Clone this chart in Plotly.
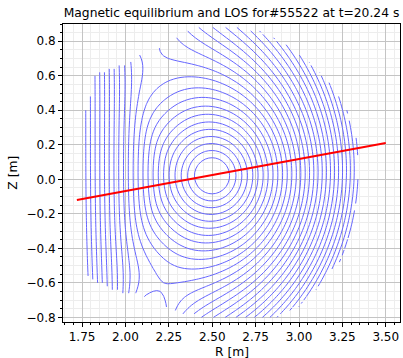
import numpy as np
import plotly.graph_objects as go

# ---------------- values ----------------
TITLE = "Magnetic equilibrium and LOS for#55522 at t=20.24 s"
X_LABEL = "R [m]"
Y_LABEL = "Z [m]"

AXIS_R, AXIS_Z = 2.50, 0.02            # magnetic axis
XPT_LOWER = [2.20, -0.62]              # lower null
XPT_UPPER = [2.22, 0.74]               # upper null
PRIV_LOWER = [2.12, -0.83]             # centre of the lower private-flux arcs
PRIV_UPPER = [1.98, 1.02]              # centre of the upper private-flux region
FIRST_SURF_R = 2.60                    # innermost contour, outboard midplane
LAST_SURF_R = 3.34                     # outermost contour, outboard midplane
N_INTERVALS = 28                       # contour intervals between the two
R_SEP_IN = 2.09                        # inboard edge of the closed surfaces
INBOARD_SPACING = 0.027                # spacing of the open inboard lines [m]

# first-wall outline (contours are only drawn inside it)
WALL_R = [1.755, 1.755, 1.81, 1.87, 1.98, 2.27, 2.36, 2.55, 2.75, 2.93, 3.06,
          3.19, 3.28, 3.35, 3.35, 3.325, 3.325, 3.355, 3.33, 3.26, 3.13, 2.99,
          2.89, 2.40, 2.26, 2.11, 1.96, 1.82]
WALL_Z = [-0.56, 0.39, 0.61, 0.645, 0.665, 0.83, 0.885, 0.895, 0.875, 0.79, 0.69,
          0.57, 0.41, 0.22, 0.135, 0.13, 0.02, 0.0, -0.26, -0.46, -0.62, -0.75,
          -0.805, -0.805, -0.765, -0.695, -0.655, -0.605]

# line of sight
LOS_R = [1.72, 3.50]
LOS_Z = [-0.12, 0.21]

X_RANGE = [1.640, 3.582]
Y_RANGE = [-0.827, 0.900]

# equilibrium shape parameters
CORE_SOFT = 0.08      # flattening of the flux near the axis
KAPPA_GROWTH = 0.30   # elongation growth with minor radius
TILT = 0.20           # in/out balance of the flux surfaces
INBOARD_DROP = 0.25
DROP_WIDTH = 0.10
SHARP = 10


def f_core(R, Z):
    x = R - AXIS_R
    z = Z - AXIS_Z
    r = np.hypot(x, z)
    kap = 1 + KAPPA_GROWTH * r
    d0 = np.hypot(x, z / kap)
    out = (np.sqrt(d0 ** 2 + CORE_SOFT ** 2) - CORE_SOFT) * np.exp(-TILT * x)
    for (xr, xz), (cr, cz) in ((XPT_LOWER, PRIV_LOWER), (XPT_UPPER, PRIV_UPPER)):
        d = np.hypot(xr - AXIS_R, xz - AXIS_Z)
        D = np.hypot(cr - AXIS_R, cz - AXIS_Z)
        sq = np.sqrt(d * d + CORE_SOFT ** 2)
        peff = d * (d / sq) / (sq - CORE_SOFT)
        q = peff * (D - d) / d
        out = out * np.hypot(R - cr, Z - cz) ** q
    return out


p_first = f_core(FIRST_SURF_R, AXIS_Z)
p_last = f_core(LAST_SURF_R, AXIS_Z)
step = (p_last - p_first) / N_INTERVALS
G_IN = step / INBOARD_SPACING
P_SEP_IN = f_core(R_SEP_IN, AXIS_Z)


def psi_model(R, Z):
    f1 = f_core(R, Z)
    m = 1 - INBOARD_DROP / (1 + np.exp((R - (R_SEP_IN - 0.05)) / DROP_WIDTH))
    f_in = np.maximum(P_SEP_IN + G_IN * (R_SEP_IN - R), 0)
    return ((f1 * m) ** SHARP + f_in ** SHARP) ** (1.0 / SHARP)


def inside_polygon(px, py, vx, vy):
    res = np.zeros(px.shape, bool)
    n = len(vx)
    j = n - 1
    for i in range(n):
        xi, yi, xj, yj = vx[i], vy[i], vx[j], vy[j]
        cond = ((yi > py) != (yj > py)) & (px < (xj - xi) * (py - yi) / (yj - yi + 1e-12) + xi)
        res ^= cond
        j = i
    return res


def march(Rg, Zg, F, level):
    a = F[:-1, :-1]; b = F[:-1, 1:]; c = F[1:, 1:]; d = F[1:, :-1]
    valid = np.isfinite(a) & np.isfinite(b) & np.isfinite(c) & np.isfinite(d)
    idx = ((a > level) * 1 + (b > level) * 2 + (c > level) * 4 + (d > level) * 8)
    idx = np.where(valid, idx, 0)
    shp = a.shape
    R0g = np.broadcast_to(Rg[:-1][None, :], shp)
    R1g = np.broadcast_to(Rg[1:][None, :], shp)
    Z0g = np.broadcast_to(Zg[:-1][:, None], shp)
    Z1g = np.broadcast_to(Zg[1:][:, None], shp)
    with np.errstate(all="ignore"):
        tb = (level - a) / (b - a)
        tr = (level - b) / (c - b)
        tt = (level - d) / (c - d)
        tl = (level - a) / (d - a)
    pts = [
        (R0g + tb * (R1g - R0g), Z0g),
        (R1g, Z0g + tr * (Z1g - Z0g)),
        (R0g + tt * (R1g - R0g), Z1g),
        (R0g, Z0g + tl * (Z1g - Z0g)),
    ]
    center_hi = (a + b + c + d) / 4 > level
    table = {1: [(3, 0)], 14: [(3, 0)], 2: [(0, 1)], 13: [(0, 1)], 3: [(3, 1)], 12: [(3, 1)],
             4: [(1, 2)], 11: [(1, 2)], 6: [(0, 2)], 9: [(0, 2)], 7: [(3, 2)], 8: [(3, 2)]}
    segs = []
    for case, pairs in table.items():
        m = idx == case
        for e1, e2 in pairs:
            segs.append((pts[e1][0][m], pts[e1][1][m], pts[e2][0][m], pts[e2][1][m]))
    for case, hi_pairs, lo_pairs in ((5, [(0, 1), (3, 2)], [(3, 0), (1, 2)]),
                                     (10, [(3, 0), (1, 2)], [(0, 1), (3, 2)])):
        for sel, pairs in ((center_hi, hi_pairs), (~center_hi, lo_pairs)):
            m = (idx == case) & sel
            for e1, e2 in pairs:
                segs.append((pts[e1][0][m], pts[e1][1][m], pts[e2][0][m], pts[e2][1][m]))
    return segs


# ---------------- flux map ----------------
Rg = np.arange(X_RANGE[0], 3.60, 0.02)
Zg = np.arange(-0.84, 0.91, 0.02)
RR, ZZ = np.meshgrid(Rg, Zg)
PSI = psi_model(RR, ZZ)
PSI[~inside_polygon(RR, ZZ, np.array(WALL_R), np.array(WALL_Z))] = np.nan

levels = p_first + step * np.arange(0, int((np.nanmax(PSI) - p_first) / step) + 1)

xs, ys = [], []
for lev in levels:
    for x1, y1, x2, y2 in march(Rg, Zg, PSI, lev):
        if len(x1) == 0:
            continue
        nanv = np.full(len(x1), np.nan)
        xs.append(np.column_stack([x1, x2, nanv]).ravel())
        ys.append(np.column_stack([y1, y2, nanv]).ravel())
cx = np.concatenate(xs)
cy = np.concatenate(ys)

fig = go.Figure()
fig.add_trace(go.Scatter(x=cx, y=cy, mode="lines", line=dict(color="rgb(102,102,255)", width=1),
                         hoverinfo="skip", connectgaps=False))
fig.add_trace(go.Scatter(x=LOS_R, y=LOS_Z, mode="lines", line=dict(color="rgb(255,0,0)", width=2)))

axis_common = dict(
    showline=True, linecolor="black", linewidth=1, mirror=True,
    ticks="outside", ticklen=4, tickwidth=1, tickcolor="black",
    showgrid=True, gridcolor="#c4c4c4", gridwidth=1, zeroline=False,
    tickfont=dict(family="DejaVu Sans", size=12, color="black"),
)
fig.update_xaxes(range=X_RANGE, tick0=1.75, dtick=0.25, tickformat=".2f",
                 minor=dict(dtick=0.05, tick0=1.75, ticks="outside", ticklen=2, tickcolor="black",
                            showgrid=True, gridcolor="#ededed", gridwidth=1),
                 **axis_common)
fig.update_yaxes(range=Y_RANGE, tick0=0, dtick=0.2, tickformat=".1f",
                 minor=dict(dtick=0.05, tick0=0, ticks="outside", ticklen=2, tickcolor="black",
                            showgrid=True, gridcolor="#ededed", gridwidth=1),
                 **axis_common)

fig.update_layout(
    width=403, height=358,
    margin=dict(l=63, r=3, t=24, b=36),
    plot_bgcolor="white", paper_bgcolor="white",
    showlegend=False,
    font=dict(family="DejaVu Sans", size=12, color="black"),
    title=dict(text=TITLE, x=0.5, xref="paper", xanchor="center",
               y=1 - 13 / 358, yref="container", yanchor="middle",
               font=dict(family="DejaVu Sans", size=12.3, color="black")),
    annotations=[
        dict(text=X_LABEL, xref="paper", yref="paper", x=0.5, y=-(352 - 322) / 298,
             xanchor="center", yanchor="middle", showarrow=False,
             font=dict(family="DejaVu Sans", size=12.3, color="black")),
        dict(text=Y_LABEL, xref="paper", yref="paper", x=(13 - 63.3) / 336.7, y=0.5,
             xanchor="center", yanchor="middle", showarrow=False, textangle=-90,
             font=dict(family="DejaVu Sans", size=12.3, color="black")),
    ],
)

fig.write_html("out.html")
